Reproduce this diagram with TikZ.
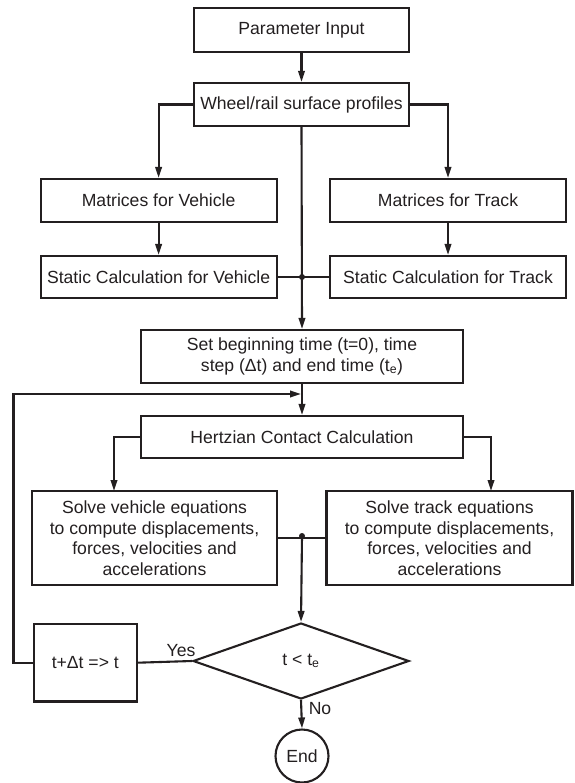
\documentclass[tikz,border=0pt]{standalone}
\usepackage{fontspec}
\setmainfont{Liberation Sans}
\usetikzlibrary{arrows.meta,shapes.geometric}
\definecolor{ink}{RGB}{35,31,32}
\begin{document}
\begin{tikzpicture}[x=1pt,y=-1pt,
  font=\fontsize{17.6}{20.5}\selectfont,
  every node/.style={text=ink},
  box/.style={draw=ink,line width=2.1pt,rectangle,inner sep=0pt,align=center},
  link/.style={draw=ink,line width=2.1pt},
  arr/.style={link,-{Triangle[length=11pt,width=6.5pt]}},
  jdot/.style={circle,fill=ink,inner sep=0pt,minimum size=6pt},
  lbl/.style={inner sep=0pt}]
\useasboundingbox (0,0) rectangle (574,783);

\node[box,minimum width=215pt,minimum height=44pt] (param) at (301.5,30) {Parameter Input};
\node[box,minimum width=215pt,minimum height=43pt] (wheel) at (301.5,104.5) {Wheel/rail surface profiles};
\node[box,minimum width=236pt,minimum height=43pt] (mv) at (158.6,200.5) {Matrices for Vehicle};
\node[box,minimum width=236pt,minimum height=43pt] (mt) at (448,200.5) {Matrices for Track};
\node[box,minimum width=236pt,minimum height=42pt] (sv) at (158.6,277) {Static Calculation for Vehicle};
\node[box,minimum width=236pt,minimum height=42pt] (st) at (448,277) {Static Calculation for Track};
\node[box,minimum width=322pt,minimum height=53pt] (set) at (302,356.5) {Set beginning time (t=0), time\\step (Δt) and end time (t\textsubscript{e})};
\node[box,minimum width=322pt,minimum height=42pt] (hz) at (302,437) {Hertzian Contact Calculation};
\node[box,minimum width=245pt,minimum height=94pt] (sveq) at (154.5,538) {Solve vehicle equations\\to compute displacements,\\forces, velocities and\\accelerations};
\node[box,minimum width=246pt,minimum height=94pt] (steq) at (449.5,538) {Solve track equations\\to compute displacements,\\forces, velocities and\\accelerations};
\node[draw=ink,line width=2.1pt,diamond,aspect=2.84,inner sep=0pt,minimum width=216pt,minimum height=76pt] (dia) at (301,661) {t < t\textsubscript{e}};
\node[box,minimum width=102.7pt,minimum height=77.5pt] (tb) at (85.3,662.7) {t+Δt => t};
\node[draw=ink,line width=2.1pt,circle,inner sep=0pt,minimum size=53pt] (end) at (302,756) {End};

\node[lbl] (yes) at (181,651) {Yes};
\node[lbl] (no) at (320,709) {No};

\coordinate (j1) at (302,277);
\coordinate (j2) at (302,536);
\coordinate (lc) at (13.5,394);
\coordinate (lj) at (301,394);
\coordinate (svin) at (114,491);
\coordinate (stin) at (491,491);

\draw[arr] (param) -- (wheel);
\draw[arr] (wheel.west) -| (mv.north);
\draw[arr] (wheel.east) -| (mt.north);
\draw[arr] (mv) -- (sv);
\draw[arr] (mt) -- (st);
\draw[link] (sv.east) -- (st.west);
\draw[arr] (wheel.south) -- (set.north);
\node[jdot] at (j1) {};
\draw[arr] (set) -- (hz);
\draw[arr] (tb.west) -| (lc) -- (lj);
\draw[arr] (hz.west) -| (svin);
\draw[arr] (hz.east) -| (stin);
\draw[link] (sveq.east) -- (steq.west);
\node[jdot] at (j2) {};
\draw[arr] (j2) -- (dia.north);
\draw[link] (dia.west) -- (tb.east);
\draw[arr] (dia.south) -- (end.north);
\end{tikzpicture}
\end{document}
